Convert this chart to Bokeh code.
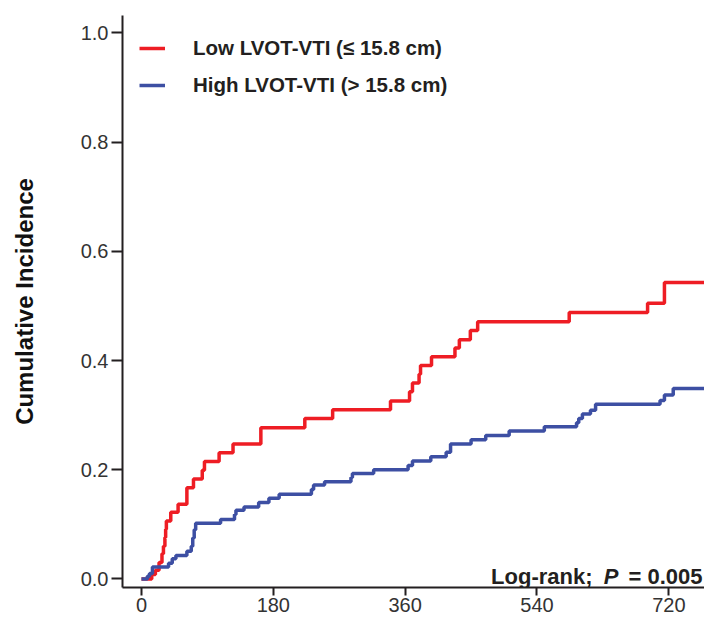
from bokeh.plotting import figure
from bokeh.models import Range1d, FixedTicker, Legend, LegendItem, Label, NumeralTickFormatter
from bokeh.embed import file_html
from bokeh.resources import INLINE

# ---- data ----
low_days = [0, 14, 19, 24, 28, 30, 32, 33, 34, 40, 50, 62, 71, 83, 86, 106, 125, 163, 223, 261,
            340, 366, 370, 379, 381, 396, 428, 434, 449, 459, 584, 691, 714, 800]
low_inc = [0.0, 0.008, 0.016, 0.030, 0.046, 0.060, 0.076, 0.091, 0.106, 0.122, 0.137, 0.167, 0.183,
           0.199, 0.215, 0.231, 0.247, 0.277, 0.294, 0.310, 0.326, 0.343, 0.359, 0.375, 0.391,
           0.407, 0.423, 0.438, 0.455, 0.471, 0.488, 0.505, 0.543, 0.543]

high_days = [0, 8, 11, 15, 37, 42, 47, 62, 68, 70, 72, 74, 108, 127, 129, 140, 160, 174, 188, 232,
             235, 250, 286, 288, 317, 364, 370, 395, 416, 422, 450, 470, 502, 550, 594, 597, 602,
             613, 620, 708, 714, 726, 776, 800]
high_inc = [0.0, 0.005, 0.010, 0.022, 0.029, 0.037, 0.043, 0.051, 0.060, 0.075, 0.090, 0.102, 0.109,
            0.118, 0.126, 0.132, 0.140, 0.148, 0.155, 0.164, 0.172, 0.178, 0.186, 0.193, 0.200,
            0.208, 0.216, 0.224, 0.232, 0.247, 0.255, 0.263, 0.271, 0.279, 0.286, 0.294, 0.302,
            0.309, 0.320, 0.327, 0.337, 0.349, 0.360, 0.360]

x_ticks = [0, 180, 360, 540, 720]
y_ticks = [0.0, 0.2, 0.4, 0.6, 0.8, 1.0]
series_names = ["Low LVOT-VTI (\u2264 15.8 cm)", "High LVOT-VTI (> 15.8 cm)"]
y_title = "Cumulative Incidence"
stat_parts = ["Log-rank;", "P", "= 0.005"]

FONT = "Liberation Sans"
RED = "#EE1D24"
BLUE = "#3D4FA3"
DARK = "#231F20"

p = figure(width=704, height=619, output_backend="svg", toolbar_location=None,
           x_range=Range1d(-25.9, 768.7), y_range=Range1d(-0.0156, 1.032),
           min_border_left=122, min_border_right=0, min_border_top=15, min_border_bottom=32)
p.outline_line_color = None
p.grid.visible = False
p.background_fill_color = "white"
p.border_fill_color = "white"

r_low = p.step(low_days, low_inc, mode="after", line_color=RED, line_width=3.5)
r_high = p.step(high_days, high_inc, mode="after", line_color=BLUE, line_width=3.5)

for ax in (p.xaxis[0], p.yaxis[0]):
    ax.axis_line_width = 2
    ax.axis_line_color = DARK
    ax.major_tick_line_width = 2
    ax.major_tick_line_color = DARK
    ax.major_tick_in = 0
    ax.minor_tick_in = 0
    ax.minor_tick_out = 0
    ax.major_label_text_font = FONT
    ax.major_label_text_font_size = "20px"
    ax.major_label_text_color = "#333333"

p.xaxis.ticker = FixedTicker(ticks=x_ticks)
p.xaxis.major_tick_out = 8
p.xaxis.major_label_standoff = 2

p.yaxis.ticker = FixedTicker(ticks=y_ticks)
p.yaxis.formatter = NumeralTickFormatter(format="0.0")
p.yaxis.major_tick_out = 11
p.yaxis.major_label_standoff = 3
p.yaxis.axis_label = y_title
p.yaxis.axis_label_text_font = FONT
p.yaxis.axis_label_text_font_size = "24px"
p.yaxis.axis_label_text_font_style = "bold"
p.yaxis.axis_label_text_color = "#111111"
p.yaxis.axis_label_standoff = 40

legend = Legend(items=[LegendItem(label=series_names[0], renderers=[r_low]),
                       LegendItem(label=series_names[1], renderers=[r_high])],
                location=(17, 490), border_line_color=None, background_fill_alpha=0,
                padding=0, margin=0, spacing=13, glyph_width=26, glyph_height=24,
                label_height=24, label_standoff=28, label_text_font=FONT,
                label_text_font_size="20.5px", label_text_font_style="bold",
                label_text_color=DARK)
p.add_layout(legend)

stat_y = 0.004
for x_pos, txt, style in [(615.8, stat_parts[0], "bold"),
                          (651.3, stat_parts[1], "bold italic"),
                          (766.0, stat_parts[2], "bold")]:
    p.add_layout(Label(x=x_pos, y=stat_y, text=txt, text_align="right",
                       text_baseline="middle", text_font=FONT, text_font_size="22px",
                       text_font_style=style, text_color=DARK))

open("out.html", "w").write(file_html(p, INLINE))
